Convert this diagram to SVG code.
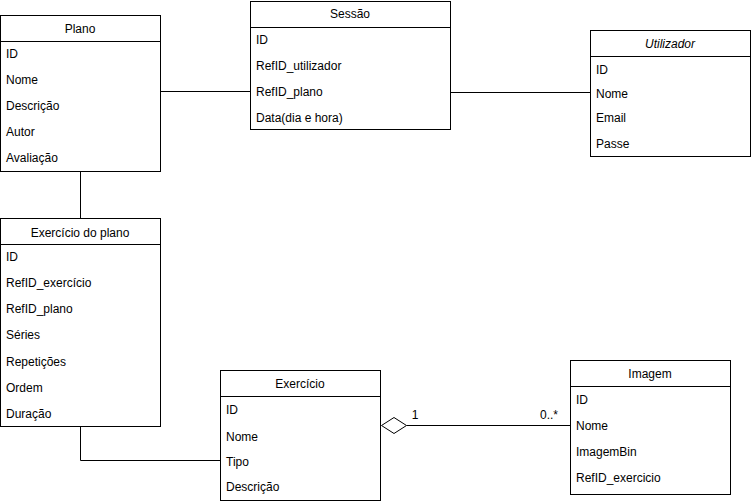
<svg xmlns="http://www.w3.org/2000/svg" width="751" height="504" viewBox="0 0 751 504">
<style>
.box{fill:#fff;stroke:#000;stroke-width:1}
.sep{stroke:#000;stroke-width:1}
.t{font-family:"Liberation Sans",Arial,sans-serif;font-size:12px;fill:#000}
.h{text-anchor:middle}
.i{font-style:italic}
.c{fill:none;stroke:#000;stroke-width:1}
</style>
<rect width="751" height="504" fill="#fff"/>
<g id="connectors">
<path class="c" d="M160.5 91.5H250.5"/>
<path class="c" d="M450.5 92.5H590.5"/>
<path class="c" d="M80.5 171.5V218.5"/>
<path class="c" d="M80.5 426.5V460.5H220.5"/>
<path class="c" d="M406.5 425.5H570.5"/>
<path d="M381.5 425.5L394 417.5L406.5 425.5L394 433.5Z" fill="#fff" stroke="#000" stroke-width="1"/>
<text class="t h" x="415" y="419">1</text>
<text class="t h" x="549" y="419">0..*</text>
</g>
<g id="plano">
<rect class="box" x="0.5" y="15.5" width="160" height="156"/>
<line class="sep" x1="0.5" y1="41.5" x2="160.5" y2="41.5"/>
<text class="t h" x="80" y="33">Plano</text>
<text class="t" x="6" y="58">ID</text>
<text class="t" x="6" y="84">Nome</text>
<text class="t" x="6" y="110">Descrição</text>
<text class="t" x="6" y="136">Autor</text>
<text class="t" x="6" y="162">Avaliação</text>
</g>
<g id="sessao">
<rect class="box" x="250.5" y="1.5" width="200" height="128"/>
<line class="sep" x1="250.5" y1="27.5" x2="450.5" y2="27.5"/>
<text class="t h" x="350" y="18">Sessão</text>
<text class="t" x="256" y="44">ID</text>
<text class="t" x="256" y="70">RefID_utilizador</text>
<text class="t" x="256" y="96">RefID_plano</text>
<text class="t" x="256" y="122">Data(dia e hora)</text>
</g>
<g id="utilizador">
<rect class="box" x="590.5" y="30.5" width="160" height="126"/>
<line class="sep" x1="590.5" y1="56.5" x2="750.5" y2="56.5"/>
<text class="t h i" x="670" y="48">Utilizador</text>
<text class="t" x="596" y="74">ID</text>
<text class="t" x="596" y="98">Nome</text>
<text class="t" x="596" y="122">Email</text>
<text class="t" x="596" y="148">Passe</text>
</g>
<g id="exercicio-do-plano">
<rect class="box" x="0.5" y="218.5" width="160" height="208"/>
<line class="sep" x1="0.5" y1="244.5" x2="160.5" y2="244.5"/>
<text class="t h" x="80" y="237">Exercício do plano</text>
<text class="t" x="6" y="261">ID</text>
<text class="t" x="6" y="287">RefID_exercício</text>
<text class="t" x="6" y="313">RefID_plano</text>
<text class="t" x="6" y="339">Séries</text>
<text class="t" x="6" y="366">Repetições</text>
<text class="t" x="6" y="392">Ordem</text>
<text class="t" x="6" y="418">Duração</text>
</g>
<g id="exercicio">
<rect class="box" x="220.5" y="370.5" width="160" height="130"/>
<line class="sep" x1="220.5" y1="396.5" x2="380.5" y2="396.5"/>
<text class="t h" x="300" y="388">Exercício</text>
<text class="t" x="226" y="414">ID</text>
<text class="t" x="226" y="441">Nome</text>
<text class="t" x="226" y="466">Tipo</text>
<text class="t" x="226" y="491">Descrição</text>
</g>
<g id="imagem">
<rect class="box" x="570.5" y="360.5" width="160" height="134"/>
<line class="sep" x1="570.5" y1="386.5" x2="730.5" y2="386.5"/>
<text class="t h" x="650" y="378">Imagem</text>
<text class="t" x="576" y="404">ID</text>
<text class="t" x="576" y="430">Nome</text>
<text class="t" x="576" y="456">ImagemBin</text>
<text class="t" x="576" y="482">RefID_exercicio</text>
</g>
</svg>
